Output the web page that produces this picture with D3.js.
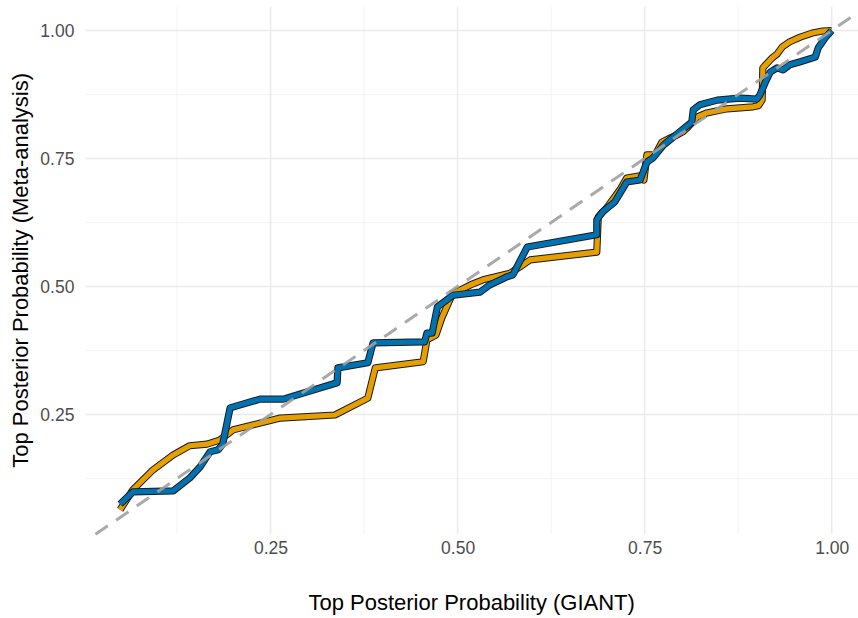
<!DOCTYPE html>
<html>
<head>
<meta charset="utf-8">
<script src="https://cdn.jsdelivr.net/npm/d3@7"></script>
<style>
  body { margin: 0; background: #fff; }
  svg { display: block; font-family: "Liberation Sans", Arial, sans-serif; }
</style>
</head>
<body>
<svg id="chart" width="858" height="618"></svg>
<script>
// GIANT vs meta-analysis top posterior probability
var blueX = [0.049, 0.066, 0.120, 0.142, 0.156, 0.169, 0.180, 0.186, 0.196, 0.236, 0.267, 0.339, 0.340, 0.380, 0.387,
    0.456, 0.459, 0.466, 0.473, 0.494, 0.530, 0.543, 0.566, 0.574, 0.593, 0.686, 0.686, 0.694, 0.710, 0.726,
    0.744, 0.753, 0.761, 0.775, 0.780, 0.797, 0.813, 0.815, 0.824, 0.847, 0.877, 0.900, 0.904, 0.911, 0.918,
    0.927, 0.935, 0.944, 0.958, 0.978, 0.982, 0.991, 1.000];
var blueY = [0.075, 0.099, 0.101, 0.126, 0.148, 0.177, 0.181, 0.192, 0.263, 0.280, 0.280, 0.312, 0.341, 0.351, 0.390,
    0.392, 0.409, 0.409, 0.460, 0.483, 0.489, 0.503, 0.519, 0.523, 0.577, 0.601, 0.630, 0.646, 0.665, 0.704,
    0.708, 0.743, 0.751, 0.776, 0.782, 0.802, 0.821, 0.845, 0.855, 0.864, 0.868, 0.866, 0.874, 0.898, 0.919,
    0.927, 0.923, 0.933, 0.939, 0.948, 0.966, 0.985, 1.000];

var orangeX = [0.049, 0.066, 0.093, 0.120, 0.142, 0.165, 0.182, 0.200, 0.263, 0.336, 0.380, 0.390, 0.454, 0.459,
    0.471, 0.479, 0.493, 0.517, 0.534, 0.570, 0.583, 0.597, 0.686, 0.688, 0.700, 0.717, 0.726, 0.744, 0.749,
    0.753, 0.764, 0.773, 0.784, 0.793, 0.801, 0.807, 0.820, 0.833, 0.860, 0.895, 0.902, 0.907, 0.908, 0.920,
    0.927, 0.934, 0.944, 0.958, 0.974, 0.988, 1.000];
var orangeY = [0.064, 0.103, 0.142, 0.171, 0.189, 0.192, 0.200, 0.220, 0.243, 0.249, 0.282, 0.341, 0.353, 0.396,
    0.405, 0.439, 0.485, 0.503, 0.513, 0.526, 0.538, 0.552, 0.567, 0.636, 0.655, 0.689, 0.712, 0.716, 0.708,
    0.757, 0.757, 0.782, 0.790, 0.796, 0.802, 0.810, 0.831, 0.839, 0.847, 0.851, 0.853, 0.864, 0.927, 0.946,
    0.954, 0.968, 0.978, 0.987, 0.995, 0.999, 1.000];

var majorTicks = [0.25, 0.50, 0.75, 1.00];
var minorTicks = [0.125, 0.375, 0.625, 0.875];
var xTitle = "Top Posterior Probability (GIANT)";
var yTitle = "Top Posterior Probability (Meta-analysis)";

var svg = d3.select("#chart"),
    WIDTH = 858,
    xScale = d3.scaleLinear().domain([0, 1]).range([83.5, 831.7]),
    yScale = d3.scaleLinear().domain([0, 1]).range([542.5, 30.5]),
    xLim = [0.0025, 1.0475],
    yLim = [0.016, 1.047];

var panelLeft = xScale(xLim[0]),
    panelRight = Math.min(xScale(xLim[1]), WIDTH),
    panelTop = yScale(yLim[1]),
    panelBottom = yScale(yLim[0]);

var grid = svg.append("g").attr("class", "grid");

// minor grid
grid.selectAll("line.vminor").data(minorTicks).enter().append("line")
    .attr("x1", d => xScale(d)).attr("x2", d => xScale(d))
    .attr("y1", panelTop).attr("y2", panelBottom)
    .attr("stroke", "#f2f2f2").attr("stroke-width", 0.9);
grid.selectAll("line.hminor").data(minorTicks).enter().append("line")
    .attr("x1", panelLeft).attr("x2", panelRight)
    .attr("y1", d => yScale(d)).attr("y2", d => yScale(d))
    .attr("stroke", "#f2f2f2").attr("stroke-width", 0.9);

// major grid
grid.selectAll("line.vmajor").data(majorTicks).enter().append("line")
    .attr("x1", d => xScale(d)).attr("x2", d => xScale(d))
    .attr("y1", panelTop).attr("y2", panelBottom)
    .attr("stroke", "#ebebeb").attr("stroke-width", 1.6);
grid.selectAll("line.hmajor").data(majorTicks).enter().append("line")
    .attr("x1", panelLeft).attr("x2", panelRight)
    .attr("y1", d => yScale(d)).attr("y2", d => yScale(d))
    .attr("stroke", "#ebebeb").attr("stroke-width", 1.6);

// axes, only labels (theme_minimal)
var xAxis = d3.axisBottom(xScale).tickValues(majorTicks).tickFormat(d3.format(".2f")).tickSize(0).tickPadding(0);
var yAxis = d3.axisLeft(yScale).tickValues(majorTicks).tickFormat(d3.format(".2f")).tickSize(0).tickPadding(0);

var gx = svg.append("g")
    .attr("transform", "translate(0," + (panelBottom + 7) + ")")
    .call(xAxis);
var gy = svg.append("g")
    .attr("transform", "translate(" + (panelLeft - 11) + ",0)")
    .call(yAxis);
[gx, gy].forEach(function(g) {
    g.select(".domain").remove();
    g.selectAll("text")
        .attr("fill", "#4d4d4d")
        .style("font-size", "17.5px")
        .style("font-family", "Liberation Sans, Arial, sans-serif");
});
gx.selectAll("text").attr("dy", "0.72em");

var lineGen = d3.line()
    .x(d => xScale(d[0]))
    .y(d => yScale(d[1]));

var blue = d3.zip(blueX, blueY),
    orange = d3.zip(orangeX, orangeY);

[[orange, "#E69F00"], [blue, "#0072B2"]].forEach(function(s) {
    svg.append("path")
        .attr("d", lineGen(s[0]))
        .attr("fill", "none")
        .attr("stroke", "#1a1a1a")
        .attr("stroke-width", 7.2)
        .attr("stroke-linejoin", "round")
        .attr("stroke-linecap", "butt");
    svg.append("path")
        .attr("d", lineGen(s[0]))
        .attr("fill", "none")
        .attr("stroke", s[1])
        .attr("stroke-width", 5.2)
        .attr("stroke-linejoin", "round")
        .attr("stroke-linecap", "butt");
});

// y = x reference
var lo = Math.max(xLim[0], yLim[0]), hi = Math.min(xLim[1], yLim[1]);
svg.append("path")
    .attr("d", lineGen([[lo, lo], [hi, hi]]))
    .attr("fill", "none")
    .attr("stroke", "#a0a0a0")
    .attr("stroke-opacity", 0.9)
    .attr("stroke-width", 3)
    .attr("stroke-dasharray", "15,10");

// titles
svg.append("text")
    .attr("x", (panelLeft + panelRight) / 2)
    .attr("y", 610)
    .attr("text-anchor", "middle")
    .attr("fill", "#000")
    .style("font-size", "22px")
    .text(xTitle);

svg.append("text")
    .attr("transform", "translate(28," + ((panelTop + panelBottom) / 2) + ") rotate(-90)")
    .attr("text-anchor", "middle")
    .attr("fill", "#000")
    .style("font-size", "22px")
    .text(yTitle);
</script>
</body>
</html>
